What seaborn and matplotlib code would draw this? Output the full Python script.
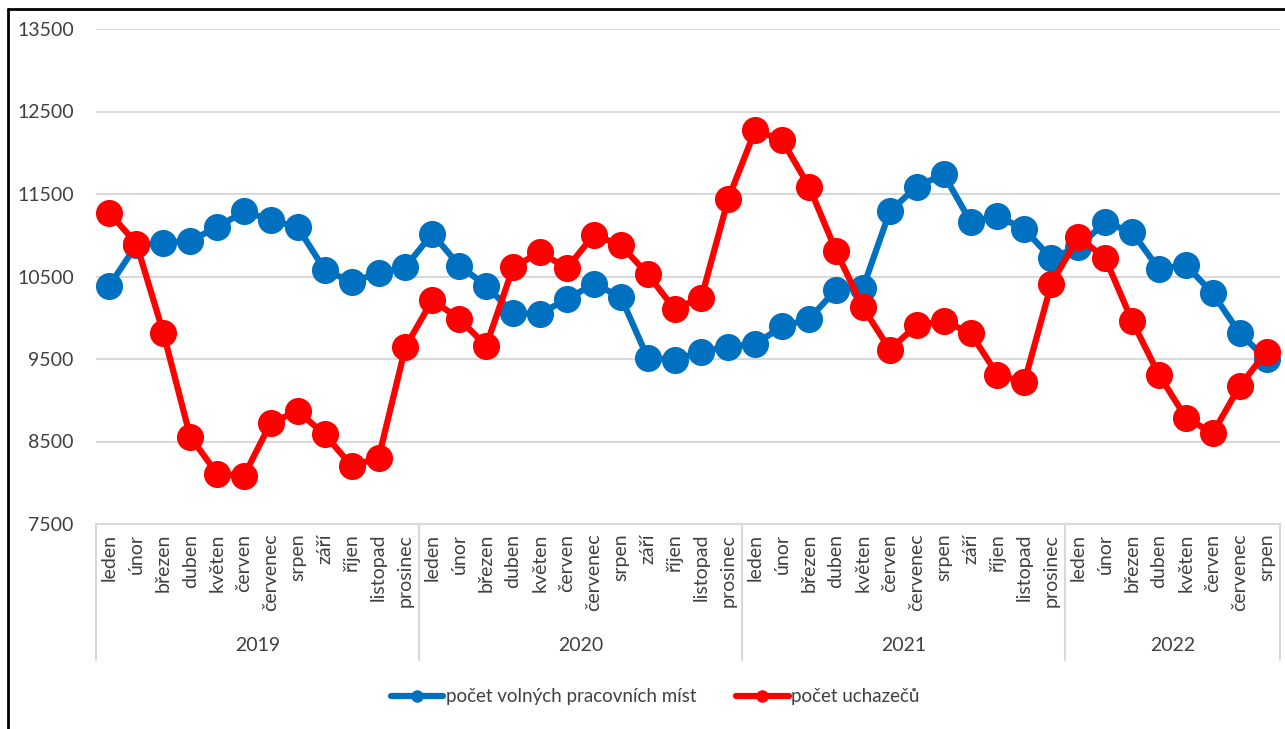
"""
Volná místa vs. uchazeči, 2019-2022.
"""
import numpy as np
import pandas as pd
import matplotlib.pyplot as plt
import matplotlib.transforms as mtransforms
from matplotlib.lines import Line2D
import seaborn as sns

# ── Data ─────────────────────────────────────────────────────────────────────
months = ["leden", "únor", "březen", "duben", "květen", "červen",
          "červenec", "srpen", "září", "říjen", "listopad", "prosinec"]
years = ["2019", "2020", "2021", "2022"]
months_per_year = [12, 12, 12, 8]

volna_mista = [
    10390, 10880, 10905, 10935, 11095, 11290, 11185, 11095, 10580, 10435, 10540, 10615,
    11020, 10630, 10390, 10055, 10050, 10225, 10410, 10255, 9515, 9490, 9590, 9650,
    9680, 9895, 9985, 10340, 10360, 11290, 11590, 11740, 11165, 11230, 11075, 10720,
    10860, 11155, 11040, 10590, 10640, 10295, 9815, 9495,
]
uchazeci = [
    11270, 10900, 9820, 8560, 8110, 8085, 8730, 8865, 8585, 8205, 8300, 9645,
    10215, 9985, 9660, 10610, 10795, 10600, 11005, 10880, 10530, 10105, 10245, 11445,
    12275, 12150, 11590, 10810, 10125, 9615, 9910, 9960, 9815, 9310, 9220, 10410,
    10975, 10725, 9965, 9310, 8790, 8600, 9170, 9590,
]

series_names = ["počet volných pracovních míst", "počet uchazečů"]
colors = ["#0070C0", "#FF0000"]

month_labels = [m for n in months_per_year for m in months[:n]]
n = len(month_labels)
idx = np.arange(n)

df = pd.concat([
    pd.DataFrame({"idx": idx, "value": volna_mista, "series": series_names[0]}),
    pd.DataFrame({"idx": idx, "value": uchazeci, "series": series_names[1]}),
])

# ── Figure ───────────────────────────────────────────────────────────────────
sns.set_theme(style="white")
plt.rcParams["font.family"] = ["Lato", "DejaVu Sans"]
text_color = "#404040"
grid_color = "#d9d9d9"

fig = plt.figure(figsize=(12.85, 7.29), dpi=100)
ax = fig.add_axes([96 / 1285, 205 / 729, 1184 / 1285, 495 / 729])

sns.lineplot(data=df, x="idx", y="value", hue="series", hue_order=series_names,
             palette=colors, marker="o", markersize=19.5, markeredgewidth=0,
             linewidth=4.5, legend=False, ax=ax)

ax.set_xlim(-0.5, n - 0.5)
ax.set_ylim(7500, 13500)
ax.set_yticks(np.arange(7500, 13501, 1000))
ax.set_yticklabels([str(v) for v in range(7500, 13501, 1000)])
ax.yaxis.grid(True, color=grid_color, lw=1.5)
ax.set_axisbelow(True)
for s in ax.spines.values():
    s.set_visible(False)
ax.axhline(7500, color=grid_color, lw=1.5, zorder=0, clip_on=False)

ax.set_xticks(idx)
ax.set_xticklabels(month_labels, rotation=90, va="top", ha="center")
ax.tick_params(axis="x", length=0, pad=7, labelsize=14, labelcolor=text_color)
ax.tick_params(axis="y", length=0, pad=16, labelsize=14, labelcolor=text_color)
ax.set_xlabel("")
ax.set_ylabel("")

# two-level category axis: year separators and labels
trans = mtransforms.blended_transform_factory(ax.transData, ax.transAxes)
bounds = np.concatenate([[0], np.cumsum(months_per_year)]) - 0.5
for b in bounds:
    ax.plot([b, b], [0, -0.275], color=grid_color, lw=1.5, transform=trans,
            clip_on=False)
for yr, lo, hi in zip(years, bounds[:-1], bounds[1:]):
    ax.text((lo + hi) / 2, -0.2445, yr, transform=trans, ha="center", va="center",
            fontsize=14, color=text_color)

# legend
handles = [Line2D([], [], color=c, lw=4.5, marker="o", markersize=9,
                  markeredgewidth=0) for c in colors]
fig.legend(handles, series_names, loc="center", bbox_to_anchor=(0.51, 0.044),
           ncol=2, frameon=False, fontsize=13.5, labelcolor=text_color,
           handlelength=2.8, handletextpad=0.15, columnspacing=2.1)

# outer chart frame (left and top edges visible)
fig.add_artist(Line2D([8 / 1285, 8 / 1285], [0, 1 - 9 / 729], color="black",
                      lw=2, transform=fig.transFigure))
fig.add_artist(Line2D([8 / 1285, 1], [1 - 9 / 729, 1 - 9 / 729], color="black",
                      lw=2, transform=fig.transFigure))

fig.savefig("out.png", dpi=100)
